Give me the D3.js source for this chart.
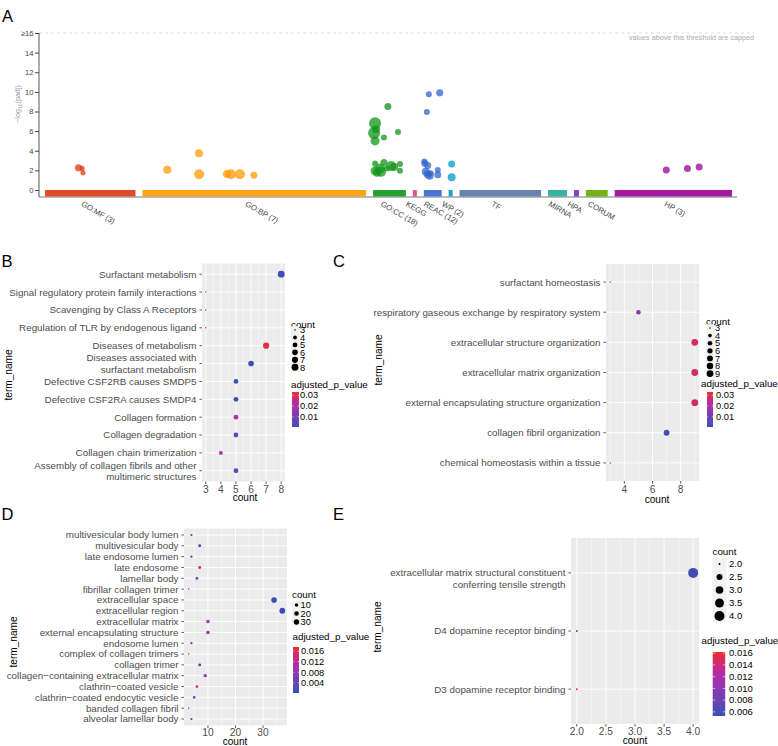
<!DOCTYPE html>
<html><head><meta charset="utf-8">
<script src="https://cdn.jsdelivr.net/npm/d3@7"></script>
<style>
body{margin:0;background:#fff;}
text{font-family:"Liberation Sans",Arial,Helvetica,sans-serif;}
</style>
</head><body>
<svg id="c" width="778" height="746"></svg>
<script>
// ================= DATA =================
// Panel A (g:Profiler Manhattan)
const aSources = ["GO:MF","GO:BP","GO:CC","KEGG","REAC","WP","TF","MIRNA","HPA","CORUM","HP"];
const aLabels  = ["GO:MF (3)","GO:BP (7)","GO:CC (18)","KEGG","REAC (12)","WP (2)","TF","MIRNA","HPA","CORUM","HP (3)"];
const aSizes   = [91,225,33,4,18,4,82,19,5,22,118];   // relative term-space width of each source
const aColors  = ["#dc3912","#ff9900","#109618","#dd4477","#3366cc","#0099c6","#5574a6","#22aa99","#6633cc","#66aa00","#990099"];
const aYTicks  = [0,2,4,6,8,10,12,14,16];
// points: [source index, position within source (0-1), -log10(padj), radius]
const aPoints = [
  [0,0.37,2.27,3.6],[0,0.41,2.2,2.6],[0,0.42,1.76,2.6],
  [1,0.111,2.07,4],[1,0.253,3.74,4],[1,0.253,1.6,5],[1,0.378,1.63,4],[1,0.396,1.6,5],[1,0.436,1.6,5],[1,0.498,1.5,3.5],
  [2,0.06,6.8,6],[2,0.09,6.2,4],[2,0.03,5.8,6],[2,0.06,5.0,4.5],[2,0.33,5.35,3],[2,0.45,8.5,3.5],[2,0.76,5.9,3],
  [2,0.06,2.7,3],[2,0.33,2.8,3.5],[2,0.06,1.95,4.5],[2,0.21,2.2,5],[2,0.24,1.85,5],[2,0.12,1.75,4],
  [2,0.55,2.45,5],[2,0.64,2.35,4],[2,0.82,2.65,3],[2,0.82,1.95,3],[2,0.42,2.2,3],
  [4,0.28,9.75,3],[4,0.89,9.9,3.6],[4,0.17,7.95,3],[4,0.06,2.7,3.5],[4,0.22,2.5,3.5],[4,0.11,1.85,4],
  [4,0.22,1.6,4],[4,0.33,1.45,4],[4,0.78,2.05,3],[4,0.78,1.55,3.5],[4,0.03,2.9,3],[4,0.39,1.7,3],
  [5,0.75,2.65,3.5],[5,0.75,1.3,4],
  [10,0.44,2.05,3.5],[10,0.62,2.2,3.5],[10,0.72,2.35,3.5]
];

// Panel B (REAC)
const bTerms = ["Surfactant metabolism","Signal regulatory protein family interactions","Scavenging by Class A Receptors",
  "Regulation of TLR by endogenous ligand","Diseases of metabolism","Diseases associated with\nsurfactant metabolism",
  "Defective CSF2RB causes SMDP5","Defective CSF2RA causes SMDP4","Collagen formation","Collagen degradation",
  "Collagen chain trimerization","Assembly of collagen fibrils and other\nmultimeric structures"];
const bCounts = [8,3,3,3,7,6,5,5,5,5,4,5];
const bPvals  = [0.0006,0.017,0.033,0.033,0.031,0.0008,0.0010,0.0010,0.021,0.006,0.021,0.006];
const bXTicks = [3,4,5,6,7,8];
const bSizeBreaks = [3,4,5,6,7,8];
const bColBreaks = [0.01,0.02,0.03];

// Panel C (GO:BP)
const cTerms = ["surfactant homeostasis","respiratory gaseous exchange by respiratory system","extracellular structure organization",
  "extracellular matrix organization","external encapsulating structure organization","collagen fibril organization",
  "chemical homeostasis within a tissue"];
const cCounts = [3,5,9,9,9,7,3];
const cPvals  = [0.033,0.013,0.028,0.028,0.028,0.0006,0.033];
const cXTicks = [4,6,8];
const cSizeBreaks = [3,4,5,6,7,8,9];
const cColBreaks = [0.01,0.02,0.03];

// Panel D (GO:CC)
const dTerms = ["multivesicular body lumen","multivesicular body","late endosome lumen","late endosome","lamellar body",
  "fibrillar collagen trimer","extracellular space","extracellular region","extracellular matrix",
  "external encapsulating structure","endosome lumen","complex of collagen trimers","collagen trimer",
  "collagen\u2212containing extracellular matrix","clathrin\u2212coated vesicle","clathrin\u2212coated endocytic vesicle",
  "banded collagen fibril","alveolar lamellar body"];
const dCounts = [4,7,4,7,6,3,34,37,10,10,4,3,7,9,6,5,3,4];
const dPvals  = [0.001,0.0009,0.001,0.0165,0.0008,0.005,0.0003,0.0002,0.0095,0.0095,0.003,0.0175,0.0009,0.0075,0.0162,0.006,0.0055,0.0005];
const dXTicks = [10,20,30];
const dSizeBreaks = [10,20,30];
const dColBreaks = [0.004,0.008,0.012,0.016];

// Panel E (GO:MF)
const eTerms = ["extracellular matrix structural constituent\nconferring tensile strength","D4 dopamine receptor binding","D3 dopamine receptor binding"];
const eCounts = [4,2,2];
const ePvals  = [0.0055,0.0053,0.0162];
const eXTicks = [2,2.5,3,3.5,4];
const eSizeBreaks = [2,2.5,3,3.5,4];
const eColBreaks = [0.006,0.008,0.010,0.012,0.014,0.016];

// ================= DRAW =================
const svg = d3.select("#c");
const GRAD_COLS = ["#3b4fb4","#7a3cb4","#b52aa6","#e8302c"];
const AX = "#4d4d4d";

function panelLetter(t,x,y){
  svg.append("text").attr("x",x).attr("y",y).attr("font-size",16.5).attr("fill","#000").text(t);
}

// ---------- Panel A ----------
(function(){
  const g = svg.append("g");
  const gap = 7;
  const starts = []; let acc = 0;
  aSizes.forEach(s=>{starts.push(acc); acc += s + gap;});
  const total = acc - gap;
  const x = d3.scaleLinear().domain([0,total]).range([45,732]);
  const y = d3.scaleLinear().domain([0,16]).range([190,33]);

  g.append("line").attr("x1",39).attr("x2",755).attr("y1",y(16)).attr("y2",y(16))
    .attr("stroke","#d6d6d6").attr("stroke-dasharray","3,3").attr("stroke-width",0.8);
  g.append("text").attr("x",754).attr("y",y(16)+6.5).attr("text-anchor","end")
    .attr("font-size",7.2).attr("fill","#aaa").text("values above this threshold are capped");

  const yAxis = d3.axisLeft(y).tickValues(aYTicks).tickSize(4).tickSizeOuter(0)
    .tickFormat(d=> d===16 ? "\u226516" : d);
  const ga = g.append("g").attr("transform","translate(39,0)").call(yAxis);
  ga.select(".domain").remove();
  ga.selectAll(".tick line").attr("stroke","#444");
  ga.selectAll(".tick text").attr("font-size",7.6).attr("fill","#444").attr("x",-5.5)
    .style("font-family",'"Liberation Sans",Arial,sans-serif');
  g.append("line").attr("x1",39).attr("x2",39).attr("y1",y(16)).attr("y2",197).attr("stroke","#444").attr("stroke-width",0.9);
  g.append("line").attr("x1",39).attr("x2",737).attr("y1",197).attr("y2",197).attr("stroke","#666").attr("stroke-width",0.9);

  const yt = g.append("text").attr("transform","translate(20,104) rotate(-90)").attr("text-anchor","middle")
    .attr("font-size",7.2).attr("fill","#999");
  yt.append("tspan").text("\u2212log");
  yt.append("tspan").attr("font-size",5).attr("dy",1.5).text("10");
  yt.append("tspan").attr("dy",-1.5).text("(padj)");

  g.selectAll("rect.src").data(aSources).join("rect").attr("class","src")
    .attr("x",(d,i)=>x(starts[i])).attr("width",(d,i)=>x(starts[i]+aSizes[i])-x(starts[i]))
    .attr("y",y(0)).attr("height",6.5).attr("fill",(d,i)=>aColors[i]).attr("opacity",0.9);

  g.selectAll("text.src").data(aLabels).join("text").attr("class","src")
    .attr("transform",(d,i)=>`translate(${x(starts[i]+aSizes[i]/2)-9.5},205.5) rotate(30)`)
    .attr("font-size",7.8).attr("fill","#444").text(d=>d);

  g.selectAll("circle").data(aPoints).join("circle")
    .attr("cx",d=>x(starts[d[0]]+d[1]*aSizes[d[0]]))
    .attr("cy",d=>y(d[2])).attr("r",d=>d[3])
    .attr("fill",d=>aColors[d[0]]).attr("fill-opacity",0.75);
})();

// ---------- Dot plot panels ----------
let gradId = 0;
function dotplot(o){
  const g = svg.append("g");
  const ext = d3.extent(o.counts), pad = (ext[1]-ext[0])*0.05;
  const x = d3.scaleLinear().domain([ext[0]-pad, ext[1]+pad]).range([o.x0,o.x1]);
  const y = d3.scalePoint().domain(o.terms).range([o.y0,o.y1]).padding(0.6);
  const pe = d3.extent(o.pvals);
  const col = d3.scaleSequential(d3.piecewise(d3.interpolateLab, GRAD_COLS)).domain(pe);
  const rs = d3.scaleLinear().domain([0,1]).range(o.rRange);
  const rad = v => rs(Math.sqrt((v-ext[0])/(ext[1]-ext[0])));

  g.append("rect").attr("x",o.x0).attr("y",o.y0).attr("width",o.x1-o.x0).attr("height",o.y1-o.y0).attr("fill","#ebebeb");
  const step = o.xTicks[1]-o.xTicks[0];
  const minor = [];
  for(let v=o.xTicks[0]-step/2; v<=x.domain()[1]; v+=step) if(v>=x.domain()[0]) minor.push(v);
  g.selectAll("line.mn").data(minor).join("line").attr("class","mn")
    .attr("x1",d=>x(d)).attr("x2",d=>x(d)).attr("y1",o.y0).attr("y2",o.y1).attr("stroke","#fff").attr("stroke-width",0.45);
  g.selectAll("line.mj").data(o.xTicks).join("line").attr("class","mj")
    .attr("x1",d=>x(d)).attr("x2",d=>x(d)).attr("y1",o.y0).attr("y2",o.y1).attr("stroke","#fff").attr("stroke-width",0.9);
  g.selectAll("line.hy").data(o.terms).join("line").attr("class","hy")
    .attr("x1",o.x0).attr("x2",o.x1).attr("y1",d=>y(d)).attr("y2",d=>y(d)).attr("stroke","#fff").attr("stroke-width",0.9);

  g.selectAll("circle.pt").data(o.terms).join("circle").attr("class","pt")
    .attr("cx",(d,i)=>x(o.counts[i])).attr("cy",d=>y(d)).attr("r",(d,i)=>rad(o.counts[i]))
    .attr("fill",(d,i)=>col(o.pvals[i]));

  g.selectAll("line.yt").data(o.terms).join("line").attr("class","yt")
    .attr("x1",o.x0-2.6).attr("x2",o.x0).attr("y1",d=>y(d)).attr("y2",d=>y(d)).attr("stroke","#333").attr("stroke-width",0.8);
  const lh = 11.4;
  o.terms.forEach(t=>{
    const lines = t.split("\n");
    const off = o.topAlign ? 0 : -(lines.length-1)/2*lh;
    const tx = g.append("text").attr("text-anchor","end").attr("font-size",o.fs).attr("fill",AX);
    lines.forEach((l,k)=>tx.append("tspan").attr("x",o.x0-5.5).attr("y",y(t)+off+k*lh).attr("dy","0.35em").text(l));
  });
  g.selectAll("line.xt").data(o.xTicks).join("line").attr("class","xt")
    .attr("x1",d=>x(d)).attr("x2",d=>x(d)).attr("y1",o.y1).attr("y2",o.y1+2.6).attr("stroke","#333").attr("stroke-width",0.8);
  g.selectAll("text.xt").data(o.xTicks).join("text").attr("class","xt")
    .attr("x",d=>x(d)).attr("y",o.xTickY).attr("text-anchor","middle").attr("font-size",o.fs+0.4).attr("fill",AX)
    .text(d=>d3.format(o.xFmt)(d));
  g.append("text").attr("x",o.xTitle[0]).attr("y",o.xTitle[1]).attr("text-anchor","middle").attr("font-size",o.fs+0.3).attr("fill","#000").text("count");
  g.append("text").attr("transform",`translate(${o.yTitle[0]},${o.yTitle[1]}) rotate(-90)`).attr("text-anchor","middle")
    .attr("font-size",o.fs+0.3).attr("fill","#000").text("term_name");

  const sl = o.sizeLeg;
  g.append("text").attr("x",sl.x).attr("y",sl.titleY).attr("font-size",o.fs).attr("fill","#000").text("count");
  g.append("rect").attr("x",sl.x).attr("y",sl.keyY0-sl.step/2).attr("width",sl.keyW).attr("height",sl.step*o.sizeBreaks.length).attr("fill","#f2f2f2");
  o.sizeBreaks.forEach((b,i)=>{
    const cy = sl.keyY0 + i*sl.step;
    g.append("circle").attr("cx",sl.x+sl.keyW/2).attr("cy",cy).attr("r",rad(b)).attr("fill","#000");
    g.append("text").attr("x",sl.labelX).attr("y",cy).attr("dy","0.35em").attr("font-size",sl.fs).attr("fill","#000")
      .text(d3.format(o.sizeFmt)(b));
  });

  const cl = o.colLeg;
  const id = "grad"+(gradId++);
  const grad = svg.append("defs").append("linearGradient").attr("id",id).attr("x1",0).attr("y1",1).attr("x2",0).attr("y2",0);
  d3.range(0,1.0001,0.05).forEach(t=>grad.append("stop").attr("offset",t).attr("stop-color",col(pe[0]+t*(pe[1]-pe[0]))));
  g.append("text").attr("x",cl.titleX).attr("y",cl.titleY).attr("font-size",o.fs).attr("fill","#000").text("adjusted_p_value");
  g.append("rect").attr("x",cl.x).attr("y",cl.top).attr("width",cl.w).attr("height",cl.bot-cl.top).attr("fill",`url(#${id})`);
  const cb = d3.scaleLinear().domain(pe).range([cl.bot,cl.top]);
  o.colBreaks.forEach(b=>{
    const yy = cb(b);
    g.append("line").attr("x1",cl.x).attr("x2",cl.x+cl.w/5).attr("y1",yy).attr("y2",yy).attr("stroke","#fff").attr("stroke-width",0.6);
    g.append("line").attr("x1",cl.x+cl.w*4/5).attr("x2",cl.x+cl.w).attr("y1",yy).attr("y2",yy).attr("stroke","#fff").attr("stroke-width",0.6);
    g.append("text").attr("x",cl.labelX).attr("y",yy).attr("dy","0.35em").attr("font-size",cl.fs).attr("fill","#000")
      .text(d3.format(o.colFmt)(b));
  });
}

dotplot({terms:bTerms,counts:bCounts,pvals:bPvals,xTicks:bXTicks,sizeBreaks:bSizeBreaks,colBreaks:bColBreaks,
  x0:202,x1:285,y0:263.5,y1:481.5,fs:9.8,xFmt:"d",sizeFmt:"d",colFmt:".2f",rRange:[0.75,3.4],
  xTickY:492.5,xTitle:[245,501],yTitle:[11.5,375],
  sizeLeg:{x:291,titleY:327.5,keyY0:330,step:7.45,keyW:8,labelX:300,fs:9.3},
  colLeg:{titleX:291,titleY:388,x:292,w:7,top:392,bot:427,labelX:300,fs:9.3}});

dotplot({terms:cTerms,counts:cCounts,pvals:cPvals,xTicks:cXTicks,sizeBreaks:cSizeBreaks,colBreaks:cColBreaks,
  x0:606,x1:699,y0:264,y1:481,fs:9.8,xFmt:"d",sizeFmt:"d",colFmt:".2f",rRange:[0.75,3.4],
  xTickY:493,xTitle:[657,503],yTitle:[381.5,360],
  sizeLeg:{x:706,titleY:324.5,keyY0:328,step:7.6,keyW:8,labelX:715,fs:9.3},
  colLeg:{titleX:701,titleY:386.5,x:707,w:6,top:392,bot:427,labelX:716,fs:9.3}});

dotplot({terms:dTerms,counts:dCounts,pvals:dPvals,xTicks:dXTicks,sizeBreaks:dSizeBreaks,colBreaks:dColBreaks,
  x0:184,x1:287,y0:528.5,y1:725.5,fs:9.8,xFmt:"d",sizeFmt:"d",colFmt:".3f",rRange:[0.75,2.9],
  xTickY:736,xTitle:[235,745],yTitle:[16.5,642],
  sizeLeg:{x:292,titleY:597.5,keyY0:605,step:8.5,keyW:9,labelX:300.5,fs:9.3},
  colLeg:{titleX:292.5,titleY:640,x:293,w:6,top:647,bot:693,labelX:301,fs:9.3}});

dotplot({terms:eTerms,counts:eCounts,pvals:ePvals,xTicks:eXTicks,sizeBreaks:eSizeBreaks,colBreaks:eColBreaks,
  x0:571,x1:699,y0:538,y1:724,fs:9.8,xFmt:".1f",sizeFmt:".1f",colFmt:".3f",rRange:[1.0,5.0],topAlign:true,
  xTickY:735,xTitle:[635,744],yTitle:[381,627],
  sizeLeg:{x:712.5,titleY:555,keyY0:564,step:13,keyW:14,labelX:729,fs:9.5},
  colLeg:{titleX:701.5,titleY:644,x:712.7,w:12.5,top:652,bot:716,labelX:729,fs:9.5}});

panelLetter("A",2,21.5);
panelLetter("B",1.5,267);
panelLetter("C",333,267);
panelLetter("D",1.5,519.5);
panelLetter("E",333,519.5);
</script>
</body></html>
